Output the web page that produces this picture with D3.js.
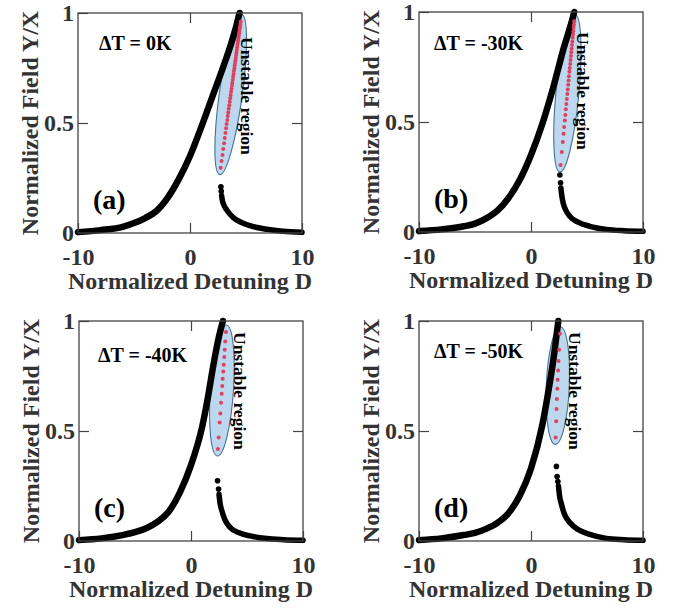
<!DOCTYPE html>
<html>
<head>
<meta charset="utf-8">
<script src="https://cdn.jsdelivr.net/npm/d3@7"></script>
<style>
body{margin:0;background:#fff;}
text{font-family:"Liberation Serif","Times New Roman",serif;font-weight:bold;}
</style>
</head>
<body>
<script>
// values: [detuning D, normalized field Y/X]
const panelTags = ["(a)", "(b)", "(c)", "(d)"];
const tempLabels = ["\u0394T = 0K", "\u0394T = -30K", "\u0394T = -40K", "\u0394T = -50K"];
const xTicks = [-10, 0, 10];
const yTicks = [0, 0.5, 1];

const upperA = [[-10,0.004],[-8,0.013],[-6,0.028],[-5,0.045],[-4,0.068],[-3,0.1],[-2,0.16],[-1,0.245],[0,0.35],[1,0.48],[2,0.62],[3,0.76],[4,0.915],[4.42,1.0]];
const upperB = [[-10,0.004],[-8,0.012],[-6,0.026],[-5,0.038],[-4,0.062],[-3,0.097],[-2,0.155],[-1,0.237],[0,0.35],[1,0.49],[2,0.66],[3,0.85],[3.5,0.93],[3.86,1.0]];
const upperC = [[-10,0.004],[-8,0.012],[-6,0.028],[-5,0.04],[-4,0.058],[-3,0.087],[-2,0.133],[-1,0.22],[0,0.345],[1,0.52],[1.5,0.65],[2,0.8],[2.5,0.93],[2.85,1.0]];
const upperD = [[-10,0.004],[-8,0.012],[-6,0.027],[-5,0.037],[-4,0.055],[-3,0.082],[-2,0.127],[-1,0.207],[0,0.33],[1,0.525],[1.5,0.665],[2,0.825],[2.44,1.0]];

const jumpA = [[2.76,0.21],[2.79,0.19]];
const jumpB = [[2.58,0.259],[2.64,0.224]];
const jumpC = [[2.37,0.274],[2.46,0.236]];
const jumpD = [[2.27,0.339],[2.33,0.293],[2.40,0.27]];

const lowerA = [[2.82,0.17],[2.9,0.145],[3.0,0.13],[3.27,0.105],[3.87,0.07],[4.5,0.05],[5.36,0.033],[6.85,0.017],[8.3,0.008],[10,0.003]];
const lowerB = [[2.67,0.2],[2.75,0.165],[2.88,0.13],[3.1,0.1],[3.47,0.071],[4.2,0.045],[5.25,0.026],[6.74,0.012],[8.3,0.006],[10,0.003]];
const lowerC = [[2.5,0.213],[2.6,0.17],[2.76,0.137],[3.0,0.1],[3.5,0.061],[4.3,0.037],[5.29,0.023],[6.78,0.011],[8.3,0.006],[10,0.003]];
const lowerD = [[2.45,0.25],[2.55,0.205],[2.72,0.167],[3.0,0.12],[3.46,0.084],[4.2,0.052],[5.24,0.03],[6.73,0.012],[8.3,0.006],[10,0.003]];

const unstableA = [[4.53,0.961],[4.50,0.950],[4.47,0.939],[4.44,0.929],[4.41,0.918],[4.39,0.908],[4.36,0.897],[4.33,0.886],[4.30,0.876],[4.27,0.865],
  [4.24,0.855],[4.21,0.843],[4.18,0.832],[4.15,0.820],[4.12,0.809],[4.09,0.797],[4.06,0.785],[4.02,0.773],[3.99,0.761],[3.96,0.749],
  [3.92,0.736],[3.89,0.723],[3.85,0.710],[3.82,0.697],[3.78,0.683],[3.75,0.670],[3.71,0.656],[3.67,0.642],[3.63,0.627],[3.59,0.612],
  [3.55,0.597],[3.51,0.581],[3.46,0.565],[3.42,0.548],[3.37,0.532],[3.33,0.514],[3.27,0.495],[3.22,0.476],[3.17,0.455],[3.10,0.432],
  [3.04,0.408],[2.97,0.382],[2.90,0.355],[2.82,0.327],[2.74,0.297]];
const unstableB = [[3.86,0.958],[3.83,0.943],[3.80,0.928],[3.78,0.913],[3.75,0.898],[3.72,0.883],[3.69,0.866],[3.66,0.850],[3.63,0.833],[3.60,0.817],
  [3.57,0.800],[3.53,0.782],[3.50,0.764],[3.46,0.746],[3.43,0.728],[3.39,0.708],[3.36,0.689],[3.32,0.669],[3.28,0.648],[3.24,0.627],
  [3.20,0.605],[3.16,0.582],[3.11,0.558],[3.07,0.532],[3.02,0.507],[2.96,0.477],[2.91,0.447],[2.84,0.409],[2.75,0.364],[2.64,0.304]];
const unstableC = [[3.12,0.950],[3.06,0.907],[3.01,0.869],[2.97,0.836],[2.92,0.801],[2.88,0.771],[2.83,0.737],[2.79,0.704],[2.74,0.669],[2.68,0.628],
  [2.62,0.580],[2.56,0.539],[2.47,0.471],[2.40,0.418]];
const unstableD = [[2.59,0.942],[2.51,0.869],[2.46,0.818],[2.42,0.775],[2.38,0.733],[2.35,0.692],[2.31,0.646],[2.28,0.600],[2.25,0.544],[2.20,0.471]];

const upperSets = [upperA, upperB, upperC, upperD];
const jumpSets = [jumpA, jumpB, jumpC, jumpD];
const lowerSets = [lowerA, lowerB, lowerC, lowerD];
const unstableSets = [unstableA, unstableB, unstableC, unstableD];

// layout (pixels)
const W = 679, H = 610, pw = 224, ph = 220;
const layout = [
  {x:78,  y:13,  dt:[21,37], un:[163,24]},
  {x:419, y:12,  dt:[15,38], un:[158,20]},
  {x:79,  y:321, dt:[19,41], un:[155,11]},
  {x:419, y:321, dt:[15,37], un:[150,11]}
];

const svg = d3.select("body").append("svg")
  .attr("width", W).attr("height", H);

const x = d3.scaleLinear().domain([-10,10]).range([0,pw]);
const y = d3.scaleLinear().domain([0,1]).range([ph,0]);
const line = d3.line().x(d => x(d[0])).y(d => y(d[1])).curve(d3.curveMonotoneX);

layout.forEach(function(L, i){
  const g = svg.append("g").attr("transform", "translate(" + L.x + "," + L.y + ")");

  // axes with inward ticks
  const ax = [
    d3.axisBottom(x).tickValues(xTicks).tickSize(-10).tickPadding(15).tickFormat(d => String(d)),
    d3.axisTop(x).tickValues([0]).tickSize(-10).tickFormat(""),
    d3.axisLeft(y).tickValues(yTicks).tickSize(-10).tickPadding(4).tickFormat(d => String(d)),
    d3.axisRight(y).tickValues([0.5]).tickSize(-10).tickFormat("")
  ];
  const pos = ["translate(0," + ph + ")", null, null, "translate(" + pw + ",0)"];
  ax.forEach(function(a, k){
    const ga = g.append("g").attr("transform", pos[k]).call(a);
    ga.select(".domain").remove();
    ga.selectAll("line").attr("stroke", "#444").attr("stroke-width", 1.2);
    ga.selectAll("text").attr("fill", "#333")
      .style("font-size", "24px").style("font-family", null);
  });

  // unstable-region ellipse, spanning the red points
  const u = unstableSets[i];
  const p0 = [x(u[0][0]), y(u[0][1])], p1 = [x(u[u.length-1][0]), y(u[u.length-1][1])];
  const ang = Math.atan2(p1[1]-p0[1], p1[0]-p0[0]) * 180 / Math.PI;
  const len = Math.hypot(p1[0]-p0[0], p1[1]-p0[1]);
  g.append("ellipse")
    .attr("transform", "translate(" + (p0[0]+p1[0])/2 + "," + (p0[1]+p1[1])/2 + ") rotate(" + ang + ")")
    .attr("rx", len/2 + 7).attr("ry", 11.5)
    .attr("fill", "#bdd7ee").attr("stroke", "#41719c").attr("stroke-width", 1.1);

  // stable branches
  g.append("path").datum(upperSets[i]).attr("d", line)
    .attr("fill", "none").attr("stroke", "#000").attr("stroke-width", 6.5)
    .attr("stroke-linecap", "round").attr("stroke-linejoin", "round");
  g.append("path").datum(lowerSets[i]).attr("d", line)
    .attr("fill", "none").attr("stroke", "#000").attr("stroke-width", 5.5)
    .attr("stroke-linecap", "round").attr("stroke-linejoin", "round");
  g.selectAll(".jump").data(jumpSets[i]).enter().append("circle")
    .attr("class", "jump")
    .attr("cx", d => x(d[0])).attr("cy", d => y(d[1])).attr("r", 2.8)
    .attr("fill", "#000");

  // unstable branch
  g.selectAll(".uns").data(u).enter().append("circle")
    .attr("class", "uns")
    .attr("cx", d => x(d[0])).attr("cy", d => y(d[1])).attr("r", 2)
    .attr("fill", "#dc4360");

  // frame
  g.append("rect").attr("width", pw).attr("height", ph)
    .attr("fill", "none").attr("stroke", "#444").attr("stroke-width", 1.3);

  // labels
  g.append("text").attr("x", pw/2).attr("y", ph + 56)
    .attr("text-anchor", "middle").attr("fill", "#333").style("font-size", "24px")
    .text("Normalized Detuning D");
  g.append("text").attr("transform", "translate(-40," + ph/2 + ") rotate(-90)")
    .attr("text-anchor", "middle").attr("fill", "#333").style("font-size", "24px")
    .text("Normalized Field Y/X");
  g.append("text").attr("x", L.dt[0]).attr("y", L.dt[1])
    .style("font-size", "20px").text(tempLabels[i]);
  g.append("text").attr("x", 15).attr("y", ph - 24)
    .style("font-size", "28px").text(panelTags[i]);
  g.append("text").attr("transform", "translate(" + L.un[0] + "," + L.un[1] + ") rotate(90)")
    .style("font-size", "17.5px").text("Unstable region");
});
</script>
</body>
</html>
